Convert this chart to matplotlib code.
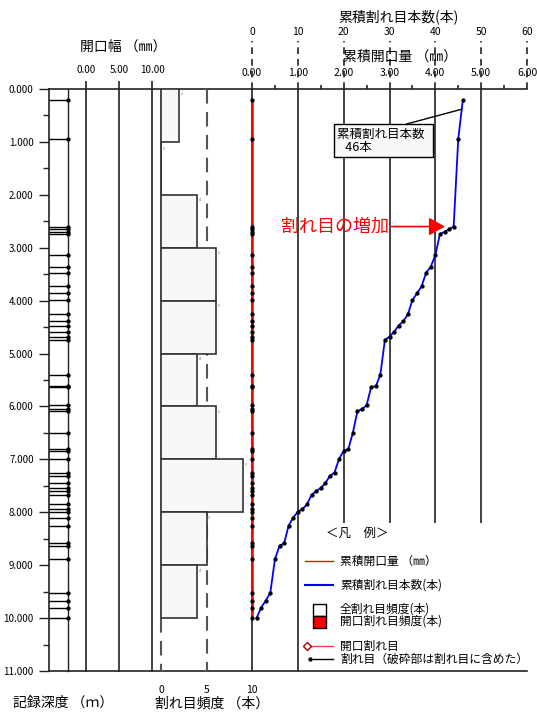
import numpy as np
import matplotlib
matplotlib.use("Agg")
import matplotlib.pyplot as plt
from matplotlib.patches import Rectangle

plt.rcParams['font.family'] = ['Noto Sans CJK JP', 'DejaVu Sans']

# fracture depths (m)
depths = [0.21, 0.945, 2.60, 2.65, 2.70, 2.74, 3.14, 3.36, 3.47, 3.73, 3.86, 3.99,
          4.26, 4.39, 4.47, 4.59, 4.68, 4.74, 5.40, 5.62, 5.63, 5.98, 6.05, 6.09,
          6.50, 6.81, 6.84, 6.99, 7.25, 7.31, 7.45, 7.54, 7.60, 7.67, 7.85, 7.94,
          7.99, 8.10, 8.25, 8.59, 8.63, 8.89, 9.52, 9.67, 9.80, 10.00]
# cumulative fracture count (counted from the bottom)
cum_counts = [46, 45, 44, 43, 42, 41, 40, 39, 38, 37, 36, 35,
              34, 33, 32, 31, 30, 29, 28, 27, 26, 25, 24, 23,
              22, 21, 20, 19, 18, 17, 16, 15, 14, 13, 12, 11,
              10, 9, 8, 7, 6, 5, 4, 3, 2, 1]
# cumulative aperture (mm) - no open fractures
cum_aperture = [0.0] * 46

# fracture frequency per 1 m interval
bin_tops = [0, 1, 2, 3, 4, 5, 6, 7, 8, 9]
freq = [2, 0, 4, 6, 6, 4, 6, 9, 5, 4]

depth_ticks = [0, 1, 2, 3, 4, 5, 6, 7, 8, 9, 10, 11]
ap_ticks = [0, 5, 10]
freq_ticks = [0, 5, 10]
count_ticks = [0, 10, 20, 30, 40, 50, 60]
mm_labels = ["0.00", "1.00", "2.00", "3.00", "4.00", "5.00", "6.00"]

W, H = 537, 713
TOP, BOT = 89, 671
fig = plt.figure(figsize=(W / 100, H / 100), dpi=100)


def px(x0, y0, x1, y1):
    return [x0 / W, 1 - y1 / H, (x1 - x0) / W, (y1 - y0) / H]


LC = '#222222'
MS = 2.1

# depth axis frame
ax = fig.add_axes(px(49, TOP, 527, BOT))
ax.set_ylim(11, 0)
ax.set_xlim(0, 1)
ax.set_xticks([])
ax.spines['right'].set_visible(False)
for s in ['left', 'top', 'bottom']:
    ax.spines[s].set_linewidth(1.2)
    ax.spines[s].set_color(LC)
ax.set_yticks(depth_ticks)
ax.set_yticklabels([f"{v:.3f}" for v in depth_ticks], fontsize=7)
ax.set_yticks(np.arange(0.5, 11, 1), minor=True)
ax.tick_params(axis='y', which='major', length=7, width=1, pad=4, color=LC)
ax.tick_params(axis='y', which='minor', length=4, width=1, color=LC)

# fracture strip
ax_s = fig.add_axes(px(49, TOP, 68, BOT))
ax_s.axis('off')
ax_s.set_ylim(11, 0)
ax_s.set_xlim(0, 1)
ax_s.axvline(1, color=LC, lw=1, clip_on=False)
ax_s.hlines(depths, 0, 1, color='k', lw=1)
ax_s.plot([1] * len(depths), depths, 'o', ms=MS, color='k', clip_on=False)

# aperture axis
ax_a = fig.add_axes(px(86, TOP, 152, BOT))
ax_a.patch.set_visible(False)
for s in ax_a.spines.values():
    s.set_visible(False)
ax_a.set_ylim(11, 0)
ax_a.set_xlim(0, 10)
for v in ap_ticks:
    ax_a.axvline(v, color=LC, lw=1.2, clip_on=False)
ax_a.set_yticks([])
ax_a.xaxis.tick_top()
ax_a.set_xticks(ap_ticks)
ax_a.set_xticklabels([f"{v:.2f}" for v in ap_ticks])
ax_a.tick_params(axis='x', length=6, width=1.2, pad=4, labelsize=7, color=LC)

# frequency histogram
ax_h = fig.add_axes(px(161, TOP, 252, BOT))
ax_h.patch.set_visible(False)
for s in ax_h.spines.values():
    s.set_visible(False)
ax_h.set_ylim(11, 0)
ax_h.set_xlim(0, 10)
ax_h.set_yticks([])
ax_h.vlines(5, 0, 11, color='#555555', lw=1.5, linestyles=(0, (7, 4)), zorder=1)
ax_h.vlines(0, 0, 10, color=LC, lw=1.2, zorder=1, clip_on=False)
ax_h.vlines(0, 10, 11, color='#555555', lw=1.5, linestyles=(0, (7, 4)), zorder=1, clip_on=False)
ax_h.barh(bin_tops, freq, height=1, align='edge', color='#f8f8f8',
          edgecolor='#333333', lw=1.2, zorder=3)
for b, f in zip(bin_tops, freq):
    if f > 0:
        ax_h.text(f + 0.2, b + 0.12, str(f), fontsize=2.5, color='#666666')
    else:
        ax_h.text(0.2, b + 0.15, str(f), fontsize=2.5, color='#666666')
ax_h.set_xticks(freq_ticks)
ax_h.tick_params(axis='x', length=0, pad=10, labelsize=7.5)

# cumulative plots
ax_c = fig.add_axes(px(252, TOP, 527, BOT))
ax_c.patch.set_visible(False)
for s in ax_c.spines.values():
    s.set_visible(False)
ax_c.set_ylim(11, 0)
ax_c.set_xlim(0, 60)
ax_c.set_yticks([])
ax_c.vlines([0, 10], 0, 11, color=LC, lw=1.2, zorder=1, clip_on=False)
ax_c.vlines([20, 30, 40, 50], 0, 8.2, color=LC, lw=1.2, zorder=1)
ax_c.vlines(count_ticks, 1.0, 1.083, transform=ax_c.get_xaxis_transform(),
            color=LC, lw=1.2, linestyles=(0, (4, 3)), clip_on=False)
ax_c.xaxis.tick_top()
ax_c.set_xticks(count_ticks)
ax_c.set_xticklabels(mm_labels)
ax_c.set_xticks([5, 15, 25, 35, 45, 55], minor=True)
ax_c.tick_params(axis='x', which='major', length=0, pad=8, labelsize=7.5)
ax_c.tick_params(axis='x', which='minor', length=3, width=1.2, color=LC)
sec = ax_c.secondary_xaxis(1 + 52 / 582)
sec.set_xticks(count_ticks)
sec.tick_params(axis='x', length=0, pad=0, labelsize=7.5)
sec.spines['top'].set_visible(False)

ax_c.plot([a * 10 for a in cum_aperture], depths, color='#ff0000', lw=1.8, zorder=4,
          clip_on=False)
ax_c.plot([a * 10 for a in cum_aperture], depths, 'o', ms=MS, color='k', zorder=5,
          clip_on=False)
ax_c.plot(cum_counts, depths, color='#0000ff', lw=1.3, marker='o', ms=MS,
          mfc='k', mec='k', zorder=5)

ax_c.annotate("累積割れ目本数  \n   46本", xy=(45.85, 0.38), xytext=(18.6, 0.73),
              fontsize=9, ha='left', va='top', linespacing=1.0,
              bbox=dict(boxstyle='square,pad=0.25', fc='#f8f8f8', ec='k', lw=1),
              arrowprops=dict(arrowstyle='-', color='k', lw=1, shrinkA=0, shrinkB=0,
                              relpos=(0.6, 1.0)), zorder=6)
ax_c.annotate("割れ目の増加", xy=(42.1, 2.60), xytext=(6.3, 2.60),
              fontsize=13, color='#ff0000', ha='left', va='center',
              arrowprops=dict(arrowstyle='-|>,head_length=0.75,head_width=0.42',
                              color='#ff0000', lw=1.2, shrinkA=0, shrinkB=0), zorder=6)

# legend
lg = fig.add_axes(px(298, 523, 527, BOT))
lg.axis('off')
lg.set_xlim(298, 527)
lg.set_ylim(BOT, 523)
fs = 8.5
lg.text(357, 533, "＜凡　例＞", fontsize=9, ha='center', va='center')
lg.plot([305, 333], [561, 561], color='#ff0000', lw=1)
lg.text(340, 561, "累積開口量 （㎜）", fontsize=fs, va='center')
lg.plot([305, 333], [585, 585], color='#0000ff', lw=1.5)
lg.text(340, 585, "累積割れ目本数(本)", fontsize=fs, va='center')
lg.add_patch(Rectangle((313, 604), 13, 12, fc='white', ec='k', lw=1))
lg.add_patch(Rectangle((313, 616), 13, 12, fc='#ff0000', ec='k', lw=1))
lg.text(340, 609, "全割れ目頻度(本)", fontsize=fs, va='center')
lg.text(340, 621, "開口割れ目頻度(本)", fontsize=fs, va='center')
lg.plot([307, 333], [646, 646], color='#ff4040', lw=1)
lg.plot([307], [646], marker='D', ms=4, mfc='white', mec='#aa0000', mew=1)
lg.text(340, 646, "開口割れ目", fontsize=fs, va='center')
lg.plot([310, 333], [659, 659], color='k', lw=1)
lg.plot([310], [659], 'o', ms=MS, color='k')
lg.text(340, 659, "割れ目（破砕部は割れ目に含めた）", fontsize=fs, va='center')

# titles
fig.text(398 / W, 1 - 17 / H, "累積割れ目本数(本)", fontsize=10, ha='center', va='center')
fig.text(400 / W, 1 - 57 / H, "累積開口量 （㎜）", fontsize=10, ha='center', va='center')
fig.text(123 / W, 1 - 47 / H, "開口幅 （㎜）", fontsize=10, ha='center', va='center')
fig.text(63 / W, 1 - 703 / H, "記録深度 （ｍ）", fontsize=10, ha='center', va='center')
fig.text(212 / W, 1 - 703 / H, "割れ目頻度 （本）", fontsize=10, ha='center', va='center')

fig.savefig("out.png", dpi=100, facecolor='white')
